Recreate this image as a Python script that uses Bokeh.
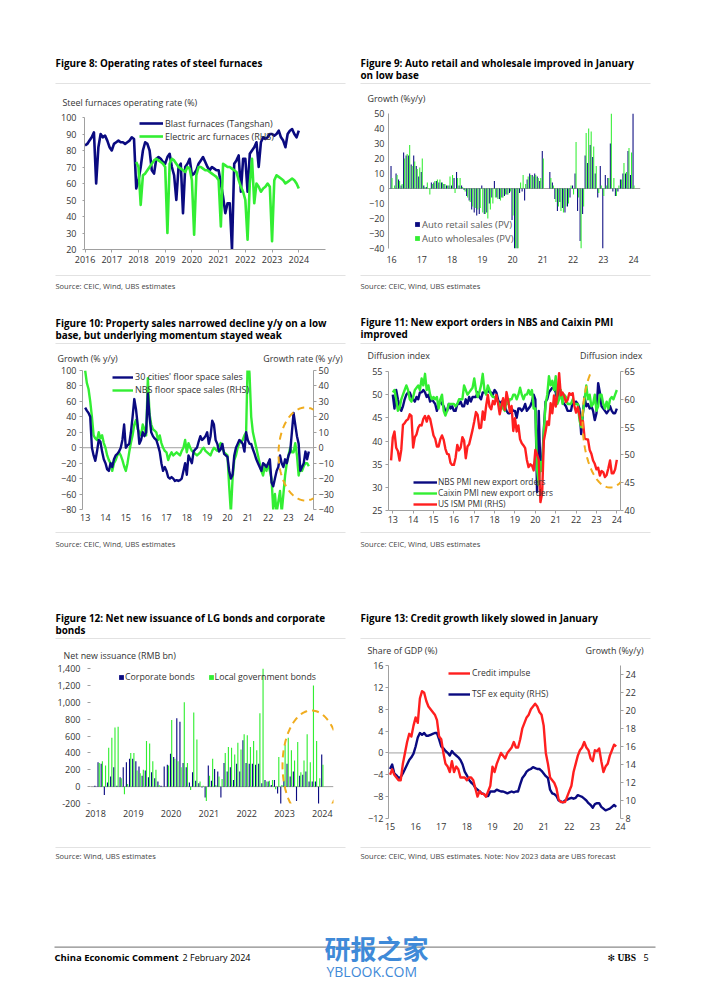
import numpy as np
from bokeh.plotting import figure
from bokeh.models import (Range1d, LinearAxis, Label, Span, FixedTicker, PolyAnnotation,
                          BoxAnnotation, Spacer, NumeralTickFormatter, Legend, LegendItem)
from bokeh.layouts import column, row
from bokeh.embed import file_html
from bokeh.resources import INLINE

nan = float("nan")

# ---------------- data ----------------
# Figure 8 (monthly, weekly data approximated)
F8_BLAST_START = (2016, 1)
F8_BLAST = [83, 84, 86, 88, 91, 60, 82, 90, 88, 89, 86, 82,
            80, 84, 85, 86, 85, 85, 84, 85, 86, 88, 87, 57,
            62, 70, 80, 85, 84, 80, 68, 66, 75, 76, 75, 73,
            72, 76, 78, 70, 65, 50, 70, 72, 42, 70, 72, 75,
            65, 66, 68, 72, 74, 76, 73, 70, 68, 70, 69, 68,
            68, 60, 52, 42, 48, 48, 20, 72, 74, 77, 55, 75,
            75, 55, 78, 80, 82, 85, 70, 85, 88, 87, 88, 90,
            90, 89, 90, 92, 88, 86, 82, 90, 92, 93, 90, 88,
            92]
F8_EAF_START = (2017, 12)
F8_EAF = [73,
          70, 47, 65, 66, 68, 70, 72, 74, 75, 74, 73, 72,
          70, 30, 72, 75, 74, 72, 70, 69, 68, 67, 70, 69,
          62, 29, 65, 70, 70, 69, 68, 68, 67, 66, 65, 64,
          62, 34, 72, 71, 70, 70, 69, 68, 67, 62, 58, 55,
          50, 26, 60, 75, 48, 60, 58, 55, 57, 58, 60, 58,
          25, 62, 65, 64, 63, 62, 60, 61, 62, 63, 62, 60,
          57]
F8_YEARS = list(range(2016, 2025))
F8_YTICKS = list(range(20, 101, 10))

# Figure 9
F9_START = (2016, 1)
F9_RETAIL = [15, 0, 10, 6, 2, 24, 22, 22, 16, 22, 15, 8,
             11, 2, 1, 0, 4, 4, 5, 4, 4, 3, 2, 2,
             2, 7, 11, 2, 2, -1, -5, -8, -14, -16, -18, -17,
             2, -17, -16, -10, -6, 5, -6, -7, -6, -5, -4, -3,
             -21, -40, -40, -3, -2, -8, 6, 10, 9, 10, 8, 5,
             25, nan, nan, 11, 4, -7, -15, -9, -13, -16, -12, -6,
             2, 10, -15, -35, -17, 22, 17, 29, 21, 10, -6, 15,
             -40, 9, 7, 30, -2, -5, -2, 6, 10, 10, 25, 9,
             50]
F9_WHOLE = [7, 2, 9, 5, 3, 20, 23, 29, 15, 18, 13, 14,
            20, 1, 4, -4, 3, 5, 6, 6, 4, 3, 2, 8,
            9, -3, 7, 7, 1, -2, -6, -9, -12, -13, -14, -13,
            -16, -17, -20, -14, -10, -6, -7, -8, -6, -4, -4, -2,
            -18, -40, -40, 4, 9, 3, 8, 9, 8, 9, 7, 7,
            20, nan, nan, 7, 2, -9, -12, -15, -16, -12, -10, 2,
            -4, 31, -6, -40, -12, 37, 40, 38, 28, 15, -3, 2,
            -5, 2, 7, 50, 7, -5, 2, 6, 17, 11, 27, 24,
            2]
F9_YEARS = list(range(2016, 2025))
F9_YTICKS = list(range(-40, 51, 10))

# Figure 10
F10_START = (2013, 1)
F10_CITIES = [52, 48, 45, 40, 0, -10, -17, -5, 10, 8, -5, -15,
              -20, -28, -30, -20, -25, -15, -10, -8, -5, 0, 10, 30,
              0, 3, 5, 20, 40, 63, 50, 30, 5, 10, 20, 15,
              20, 70, 40, 20, 15, 12, 10, 3, -5, -20, -30, -25,
              -30, -38, -40, -38, -40, -43, -42, -43, -42, -40, -30, -20,
              -35, -10, -15, -20, -5, -2, 0, 8, 15, 10, 12, 15,
              20, 5, 15, 35, 30, 10, 5, -5, -2, 5, -8, -10,
              -12, -30, -40, -35, -10, 0, 5, 10, 8, 5, -5, 20,
              10, 5, 5, -2, -8, -15, -20, -25, -30, -20, -22, -25,
              -20, -15, -45, -50, -40, -30, -25, -10, -20, -25, -15, -20,
              -10, -5, 20, 45, 30, 15, 5, -30, -25, -20, -5, -15,
              -5]
F10_NBS = [50, 42, 38, 30, 20, 8, 6, 5, 10, 6, 8, 3,
           0, -5, -8, -10, -15, -10, -8, -5, -3, -5, -8, -12,
           -15, -10, -3, 3, 8, 15, 18, 12, 10, 8, 15, 12,
           8, 45, 22, 15, 12, 11, 10, 5, 8, 3, 0, -2,
           -3, -8, -5, -3, -5, -4, -3, -4, -5, -2, 0, 5,
           -3, 3, 0, -2, -3, -4, -5, -4, -3, -1, 0, -2,
           -3, -4, -5, -2, 0, -1, -2, 1, 3, 0, -3, -4,
           -5, -25, -42, -20, -8, -5, 0, 3, 4, 5, 8, 10,
           60, 48, 20, 10, 5, 0, -5, -10, -15, -18, -12, -15,
           -10, -15, -20, -40, -30, -42, -35, -28, -42, -30, -18, -10,
           -5, 0, -3, -3, 3, -5, -18, -12, -15, -12, -10, -10,
           -12]
F10_YEARS = list(range(2013, 2025))
F10_YTICKS_L = list(range(-80, 101, 20))
F10_YTICKS_R = list(range(-40, 51, 10))

# Figure 11
F11_START = (2013, 1)
F11_NBS = [50, 47, 51, 49, 47.5, 46.5, 47.5, 49, 50, 50.5, 50.5, 49.5,
           49, 48.5, 49.5, 49, 50.5, 50.5, 51, 50.5, 49.5, 50, 48.5, 49,
           48.5, 48, 46.5, 48, 48.5, 48, 47.5, 46.5, 46.5, 48, 47, 47.5,
           46.5, 46.5, 48, 48, 48.5, 47.5, 47.5, 49, 48, 49.5, 48.5, 49.5,
           49.5, 49.5, 50.5, 49.5, 49, 50.5, 50.5, 50.5, 51, 50.5, 50.5, 50,
           51, 50.5, 49, 48, 48.5, 47.5, 47.5, 46.5, 46, 46, 47, 46.5,
           46.5, 45, 47, 47, 46.5, 47, 48, 46.5, 47, 47.5, 48.5, 50,
           49, 29, 46.5, 33.5, 35.5, 42.5, 48.5, 49, 50.5, 51, 51.5, 51.5,
           50.5, 48.5, 51, 50.5, 48.5, 48, 47.5, 46.5, 46.5, 46.5, 48.5, 48,
           48.5, 48, 47, 41.5, 46, 49.5, 47.5, 48, 47, 47.5, 46.5, 44.5,
           46, 52.5, 50.5, 47.5, 47, 46.5, 46, 46.5, 47.5, 46.5, 46, 46,
           47]
F11_CAIXIN = [50.5, 51, 49, 46.5, 47, 49, 50, 51, 52, 51, 49, 48.5,
              49.5, 51, 51.5, 52, 51, 53.5, 52, 54.5, 51, 52, 50, 49,
              49.5, 49, 49.5, 47, 49, 50, 46.5, 45.5, 46.5, 48, 48, 48,
              48, 47.5, 48, 49, 49, 49, 52, 51, 50, 50.5, 51, 51.5,
              53.5, 51, 49.5, 50.5, 52, 54.5, 51, 50, 52, 51, 50, 49.5,
              49.5, 49, 48.5, 47.5, 48, 47, 46.5, 48.5, 48, 49, 49, 50,
              50, 49, 50, 51.5, 50, 49, 50, 50, 51, 50, 51, 47,
              47, 34, 30.5, 35.5, 33.5, 42, 48, 50, 54, 52, 53, 51,
              54, 48, 49, 51, 48, 50, 49.5, 48, 48, 48, 49, 48,
              48, 48, 44.5, 43, 46, 49, 52, 49, 50, 47.5, 48, 50,
              46.5, 47.5, 50, 50, 48, 47, 48.5, 47, 49, 49.5, 49, 50,
              51]
F11_ISM_START = (2012, 12)
F11_ISM = [49.0,
           53.1, 54.2, 51.3, 50.7, 49.0, 50.9, 55.4, 55.7, 56.2, 56.4, 57.3, 57.0,
           51.3, 53.2, 53.7, 54.9, 55.4, 55.3, 56.5, 57.0, 56.0, 57.0, 56.5, 55.0,
           53.5, 52.9, 51.5, 51.5, 52.8, 53.5, 52.7, 51.1, 50.2, 50.1, 48.6, 48.2,
           48.2, 49.5, 51.8, 50.8, 51.3, 53.2, 52.6, 49.4, 51.5, 51.9, 53.2, 54.5,
           56.0, 57.7, 57.2, 54.8, 54.9, 57.8, 56.3, 58.8, 60.8, 58.7, 58.2, 59.7,
           59.1, 60.8, 59.3, 57.3, 58.7, 60.2, 58.1, 61.3, 59.8, 57.7, 58.8, 54.3,
           56.6, 54.2, 55.3, 52.8, 52.1, 51.7, 51.2, 49.1, 47.8, 48.3, 48.1, 47.2,
           50.9, 50.1, 49.1, 41.5, 43.1, 52.6, 54.2, 56.0, 55.4, 59.3, 57.5, 60.7,
           58.7, 60.8, 64.7, 60.7, 61.2, 60.6, 59.5, 59.9, 61.1, 60.8, 61.1, 58.8,
           57.6, 58.6, 57.1, 55.4, 56.1, 53.0, 52.8, 52.8, 50.9, 50.2, 49.0, 48.4,
           47.4, 47.7, 46.3, 47.1, 46.9, 46.0, 46.4, 47.6, 49.0, 46.7, 46.7, 47.4,
           49.1]
F11_YEARS = list(range(2013, 2025))
F11_YTICKS_L = list(range(25, 56, 5))
F11_YTICKS_R = list(range(40, 66, 5))

# Figure 12
F12_START = (2018, 1)
F12_CORP = [10, 290, 270, -100, 50, 120, 230, 10, 110, 230, 290, 330,
            330, 300, 240, 130, 190, 110, 170, 100, 60, 10, 240, 260,
            390, 350, 810, 770, 280, 230, 50, 170, 70, 40, -10, -130,
            250, 70, 210, 180, -130, 280, 180, 230, 80, 270, 180, 550,
            280, 270, 270, 260, 270, 40, 80, 60, 20, 80, -80, -210,
            70, 270, 120, 180, -170, 130, 140, 180, 60, 60, 60, -210,
            380]
F12_LG = [0, 280, 300, 250, 460, 580, 700, 710, 100, -90, 30, 400,
          400, 190, 160, 200, 540, 510, 300, 200, 20, 0, 0, 250,
          790, 330, 300, 230, 1000, 280, -40, 880, 560, 60, 10, -170,
          130, 330, 20, 120, 90, 400, 470, 460, 380, 520, 440, 620,
          610, 470, 540, 430, 870, 1400, 60, 70, 80, -30, 350, 20,
          500, 580, 430, 310, 530, 170, 310, 620, 290, 1200, 540, 100,
          260]
F12_YEARS = list(range(2018, 2025))
F12_YTICKS = list(range(-200, 1401, 200))

# Figure 13
F13_START = (2015, 1)
F13_IMPULSE = [-4, -3, -4, -4.5, -5, -5, -2, 0, 2, 3.5, 3, 5,
               6.5, 5.5, 10, 11.3, 11, 9.5, 8.5, 8, 7.5, 7, 6, 3,
               2.5, 0, -2, -2.5, -3.5, -1.5, -3.5, -2.5, -3, -4.5, -4.5, -4.5,
               -5, -4.5, -4.5, -5, -6.5, -8, -7, -7.5, -7.5, -8, -7, -6,
               -2.5, -3.5, -2, -1, 0, -0.5, -1, 0, 0.5, 1, 2, 1,
               1, 2.5, 4.5, 5.5, 6.5, 7, 8, 8.5, 9, 8.5, 7.5, 7,
               5, 0, -2, -4.5, -5, -5.5, -6.5, -8.5, -9, -9, -9, -8,
               -7, -6, -3.5, -2, -0.5, 0.5, 1, 2, 1, 0.5, -1, -1.5,
               0.5, 0.3, 0.8, -1.5, -3.5, -2.5, -2, -0.5, 0.5, 1.5, 1.2]
F13_TSF = [13.5, 14, 13, 12.8, 12.5, 12.6, 13, 13.5, 14, 14.5, 14.8, 15.2,
           16, 17, 17.5, 17.3, 17.5, 17.2, 17.2, 17.3, 17.4, 17.5, 17.5, 16.8,
           16, 15.8, 15.5, 15.3, 15, 15.5, 15.2, 15, 14.8, 14.5, 14, 13.2,
           12.8, 12.3, 12, 11.8, 11.4, 11.2, 11, 10.8, 10.7, 10.5, 10.5, 11,
           11, 11, 11.2, 11.1, 11, 11, 10.9, 10.8, 10.9, 11, 10.9, 11,
           11, 11.8, 12.5, 12.8, 13.2, 13.4, 13.5, 13.7, 13.6, 13.5, 13.5, 13.3,
           13, 12.7, 12.5, 11.2, 10.8, 10.7, 10.5, 10, 9.9, 9.8, 10, 10.1,
           10.2, 10.3, 10.2, 10.3, 10.6, 10.5, 10.4, 10.2, 10, 9.7, 9.5, 9.2,
           9.6, 9.7, 9.7, 9.3, 9.1, 8.9, 9, 9.1, 9.3, 9.5, 9.3]
F13_YEARS = list(range(2015, 2025))
F13_YTICKS_L = list(range(-12, 17, 4))
F13_YTICKS_R = list(range(8, 25, 2))

# ---------------- style ----------------
FONT = "Open Sans"
NAVY = "#0a0a80"
GREEN = "#33ee33"
RED = "#ff1f1f"
ORANGE = "#f0ac1e"
AXIS = "#a0a0a0"
SEP = "#e2e2e2"
TXT = "#333333"
TITLE_SIZE = 9.9
AXTITLE_SIZE = 8.9
SOURCE_SIZE = 7.5
TICK_SIZE = "9px"


def monthly_x(start, n):
    y0, m0 = start
    return [y0 + (m0 - 1 + i) / 12.0 for i in range(n)]


def panel(geo, xr, yr):
    (bx0, by0, bx1, by1), (fl, ft, fr, fb) = geo
    p = figure(frame_width=fr - fl, frame_height=fb - ft,
               min_border_left=fl - bx0, min_border_right=bx1 - fr,
               min_border_top=ft - by0, min_border_bottom=by1 - fb,
               x_range=xr, y_range=yr, output_backend="svg",
               toolbar_location=None, tools="")
    p.outline_line_color = None
    p.grid.visible = False
    p.background_fill_color = "white"
    p.border_fill_color = "white"
    return p


def style_axis(ax, line=True, ticks=0, standoff=3, ticker=None, labels=None):
    ax.axis_line_color = AXIS if line else None
    ax.axis_line_width = 1
    ax.major_tick_line_color = AXIS if ticks else None
    ax.major_tick_out = ticks
    ax.major_tick_in = 0
    ax.minor_tick_line_color = None
    ax.major_label_text_font = FONT
    ax.major_label_text_font_size = TICK_SIZE
    ax.major_label_text_color = TXT
    ax.major_label_standoff = standoff
    if ticker is not None:
        ax.ticker = FixedTicker(ticks=ticker)
    if labels is not None:
        ax.major_label_overrides = labels


def ellipse(p, fr, cx, cy, a, b):
    fl, ft, frr, fb = fr
    t = np.linspace(0, 2 * np.pi, 140)
    p.add_layout(PolyAnnotation(xs=list(cx - fl + a * np.cos(t)), ys=list(fb - cy + b * np.sin(t)),
                                xs_units="screen", ys_units="screen",
                                fill_color=None, fill_alpha=0, line_color=ORANGE, line_alpha=1,
                                line_width=2, line_dash="7 5"))


def add_legend(p, fr, entries, left, c, gw, gh, spacing, standoff, size=8.0,
               horizontal=False, color=TXT):
    fl, ft, frr, fb = fr
    spacing = int(round(spacing))
    rh = max(gh, 1.44 * size)
    top = c - rh / 2.0
    n = len(entries)
    h = rh if horizontal else n * rh + (n - 1) * spacing
    items = [LegendItem(label=t, renderers=[r]) for t, r in entries]
    lg = Legend(items=items, location=(left - fl, fb - (top + h)),
                orientation="horizontal" if horizontal else "vertical",
                glyph_width=int(gw), glyph_height=int(gh), label_height=int(gh), spacing=spacing,
                padding=0, margin=0, label_standoff=int(standoff),
                label_text_font=FONT, label_text_font_size=f"{size}px", label_text_color=color,
                background_fill_alpha=0, border_line_alpha=0)
    p.add_layout(lg)


def short_labels(years):
    return {y: str(y)[2:] for y in years}


# text blocks (headers / sources): the frame covers the whole block
def block(box):
    x0, y0, x1, y1 = box
    b = figure(width=x1 - x0, height=y1 - y0, x_range=Range1d(0, x1 - x0), y_range=Range1d(0, y1 - y0),
               x_axis_location=None, y_axis_location=None, min_border=0,
               output_backend="svg", toolbar_location=None, tools="")
    b.outline_line_color = None
    b.grid.visible = False
    return b


def btxt(b, box, px, py, text, size=8, bold=False, align="left", color=TXT, font=FONT):
    x0, y0, x1, y1 = box
    b.add_layout(Label(x=px - x0, y=y1 - py, text=text, text_font=font, text_font_size=f"{size}px",
                       text_font_style="bold" if bold else "normal", text_color=color,
                       text_align=align, text_baseline="middle"))


def bline(b, box, px0, px1, py, color=SEP, width=1.0):
    x0, y0, x1, y1 = box
    b.add_layout(BoxAnnotation(left=px0 - x0, right=px1 - x0, bottom=y1 - py - width / 2,
                               top=y1 - py + width / 2, fill_color=color, fill_alpha=1,
                               line_color=None))


def header(box, lx, titles, ty, sep_y, axis_left=None, axis_right=None):
    b = block(box)
    for i, t in enumerate(titles):
        btxt(b, box, lx, ty + 12.5 * i, t, size=TITLE_SIZE, bold=True, color="#000000")
    bline(b, box, lx, lx + 290, sep_y)
    if axis_left:
        btxt(b, box, axis_left[0], axis_left[1], axis_left[2], size=AXTITLE_SIZE)
    if axis_right:
        btxt(b, box, axis_right[0], axis_right[1], axis_right[2], size=AXTITLE_SIZE, align="right")
    return b


def source(box, lx, sep_y, text, sy):
    b = block(box)
    bline(b, box, lx, lx + 290, sep_y)
    btxt(b, box, lx, sy, text, size=SOURCE_SIZE, color="#444444")
    return b


def stack(*figs):
    # each figure is wrapped on its own so that Bokeh does not align their frames
    return column(*[column(fg) for fg in figs])


# ---------------- Figure 8 ----------------
G8 = ((50, 108, 353, 270), (84, 117, 325, 249))
p8 = panel(G8, Range1d(2015.98, 2025.0), Range1d(20, 100))
f = G8[1]
r8a = p8.line(monthly_x(F8_BLAST_START, len(F8_BLAST)), F8_BLAST, line_color=NAVY, line_width=2.6, line_join="round")
r8b = p8.line(monthly_x(F8_EAF_START, len(F8_EAF)), F8_EAF, line_color=GREEN, line_width=2.6, line_join="round")
style_axis(p8.yaxis[0], line=True, ticks=2, standoff=6, ticker=F8_YTICKS)
style_axis(p8.xaxis[0], line=True, ticks=3, standoff=3, ticker=F8_YEARS, labels={y: str(y) for y in F8_YEARS})
add_legend(p8, f, [("Blast furnaces (Tangshan)", r8a), ("Electric arc furnaces (RHS)", r8b)],
           139, 123.5, 24, 12, 0, 2, size=9)
h8 = header((50, 48, 353, 108), 55, ["Figure 8: Operating rates of steel furnaces"], 62, 83,
            axis_left=(62, 102, "Steel furnaces operating rate (%)"))
s8 = source((50, 270, 353, 298), 55, 275, "Source: CEIC, Wind, UBS estimates", 285)

# ---------------- Figure 9 ----------------
G9 = ((353, 104, 656, 270), (388, 113, 640, 248))
p9 = panel(G9, Range1d(2015.9, 2024.23), Range1d(-40, 50))
f = G9[1]
x9 = np.array(monthly_x(F9_START, len(F9_RETAIL)))
p9.add_layout(Span(location=0, dimension="width", line_color=AXIS, line_width=1, level="underlay"))
r9a = p9.vbar(x=x9 - 0.2 / 12, top=F9_RETAIL, bottom=0, width=0.42 / 12, fill_color=NAVY, line_color=None)
r9b = p9.vbar(x=x9 + 0.2 / 12, top=F9_WHOLE, bottom=0, width=0.42 / 12, fill_color=GREEN, line_color=None)
style_axis(p9.yaxis[0], line=True, ticks=0, standoff=4, ticker=F9_YTICKS)
style_axis(p9.xaxis[0], line=False, ticks=0, standoff=7, ticker=F9_YEARS, labels=short_labels(F9_YEARS))
add_legend(p9, f, [("Auto retail sales (PV)", r9a), ("Auto wholesales (PV)", r9b)],
           414, 223, 6, 6, 1, 2, size=9.5, color="#5a5a5a")
h9 = header((353, 48, 656, 104), 360, ["Figure 9: Auto retail and wholesale improved in January", "on low base"],
            62, 83, axis_left=(367, 98, "Growth (%y/y)"))
s9 = source((353, 270, 656, 298), 360, 275, "Source: CEIC, Wind, UBS estimates", 285)

# ---------------- Figure 10 ----------------
G10 = ((50, 364, 353, 528), (82, 370, 313, 509))
p10 = panel(G10, Range1d(2012.87, 2024.23), Range1d(-80, 100))
f = G10[1]
p10.extra_y_ranges = {"right": Range1d(-40, 50)}
p10.add_layout(Span(location=0, dimension="width", line_color=AXIS, line_width=1, level="underlay"))
x10 = monthly_x(F10_START, len(F10_CITIES))
r10b = p10.line(x10, F10_NBS, line_color=GREEN, line_width=2.4, line_join="round", y_range_name="right")
r10a = p10.line(x10, F10_CITIES, line_color=NAVY, line_width=2.4, line_join="round")
ax_r = LinearAxis(y_range_name="right")
p10.add_layout(ax_r, "right")
style_axis(p10.yaxis[0], line=True, ticks=3, standoff=3, ticker=F10_YTICKS_L)
style_axis(ax_r, line=True, ticks=3, standoff=2, ticker=F10_YTICKS_R)
style_axis(p10.xaxis[0], line=False, ticks=0, standoff=4, ticker=F10_YEARS, labels=short_labels(F10_YEARS))
add_legend(p10, f, [("30 cities' floor space sales", r10a), ("NBS floor space sales (RHS)", r10b)],
           112, 377, 21, 12, 0, 2, size=9)
ellipse(p10, f, 305, 453.5, 27, 46.5)
h10 = header((50, 298, 353, 364), 55, ["Figure 10: Property sales narrowed decline y/y on a low",
                                      "base, but underlying momentum stayed weak"], 322, 343,
             axis_left=(57, 358, "Growth (% y/y)"), axis_right=(342, 358, "Growth rate (% y/y)"))
s10 = source((50, 528, 353, 555), 55, 532, "Source: CEIC, Wind, UBS estimates", 543)

# ---------------- Figure 11 ----------------
G11 = ((353, 364, 656, 528), (388, 371, 620, 510))
p11 = panel(G11, Range1d(2012.79, 2024.18), Range1d(25, 55))
f = G11[1]
p11.extra_y_ranges = {"right": Range1d(40, 65)}
x11 = monthly_x(F11_START, len(F11_NBS))
r11a = p11.line(x11, F11_NBS, line_color=NAVY, line_width=2.4, line_join="round")
r11b = p11.line(x11, F11_CAIXIN, line_color=GREEN, line_width=2.4, line_join="round")
r11c = p11.line(monthly_x(F11_ISM_START, len(F11_ISM)), F11_ISM, line_color=RED, line_width=2.4,
                line_join="round", y_range_name="right")
ax_r = LinearAxis(y_range_name="right")
p11.add_layout(ax_r, "right")
style_axis(p11.yaxis[0], line=True, ticks=3, standoff=3, ticker=F11_YTICKS_L)
style_axis(ax_r, line=True, ticks=3, standoff=1, ticker=F11_YTICKS_R)
style_axis(p11.xaxis[0], line=True, ticks=3, standoff=2, ticker=F11_YEARS, labels=short_labels(F11_YEARS))
add_legend(p11, f, [("NBS PMI new export orders", r11a), ("Caixin PMI new export orders", r11b),
                    ("US ISM PMI (RHS)", r11c)], 413, 479, 24, 10, 0, 1, size=8.4)
ellipse(p11, f, 609.5, 420, 27.5, 67)
h11 = header((353, 298, 656, 364), 360, ["Figure 11: New export orders in NBS and Caixin PMI", "improved"],
             321, 343, axis_left=(367, 355, "Diffusion index"), axis_right=(642, 355, "Diffusion index"))
s11 = source((353, 528, 656, 555), 360, 532, "Source: CEIC, Wind, UBS estimates", 543)

# ---------------- Figure 12 ----------------
G12 = ((50, 662, 353, 840), (90, 668, 333, 803))
p12 = panel(G12, Range1d(2017.868, 2024.296), Range1d(-200, 1400))
f = G12[1]
x12 = np.array(monthly_x(F12_START, len(F12_CORP)))
p12.add_layout(Span(location=0, dimension="width", line_color=AXIS, line_width=1, level="underlay"))
r12a = p12.vbar(x=x12 - 0.19 / 12, top=F12_CORP, bottom=0, width=0.36 / 12, fill_color=NAVY, line_color=None)
r12b = p12.vbar(x=x12 + 0.19 / 12, top=F12_LG, bottom=0, width=0.36 / 12, fill_color=GREEN, line_color=None)
style_axis(p12.yaxis[0], line=False, ticks=3, standoff=7, ticker=F12_YTICKS)
p12.yaxis[0].formatter = NumeralTickFormatter(format="0,0")
style_axis(p12.xaxis[0], line=False, ticks=0, standoff=6, ticker=F12_YEARS, labels={y: str(y) for y in F12_YEARS})
add_legend(p12, f, [("Corporate bonds", r12a), ("Local government bonds", r12b)],
           118, 676.5, 6, 6, 13, 1, size=8.8, horizontal=True)
ellipse(p12, f, 311, 765, 29, 55)
h12 = header((50, 600, 353, 662), 55, ["Figure 12: Net new issuance of LG bonds and corporate", "bonds"],
             617, 638, axis_left=(63, 655, "Net new issuance (RMB bn)"))
s12 = source((50, 840, 353, 868), 55, 847, "Source: Wind, UBS estimates", 855)

# ---------------- Figure 13 ----------------
G13 = ((353, 657, 656, 840), (388, 665, 620, 818))
p13 = panel(G13, Range1d(2014.94, 2024.0), Range1d(-12, 16))
f = G13[1]
p13.extra_y_ranges = {"right": Range1d(8, 25)}
p13.add_layout(Span(location=0, dimension="width", line_color=AXIS, line_width=1, level="underlay"))
x13 = monthly_x(F13_START, len(F13_IMPULSE))
r13b = p13.line(x13, F13_TSF, line_color=NAVY, line_width=2.4, line_join="round", y_range_name="right")
r13a = p13.line(x13, F13_IMPULSE, line_color=RED, line_width=2.4, line_join="round")
ax_r = LinearAxis(y_range_name="right")
p13.add_layout(ax_r, "right")
style_axis(p13.yaxis[0], line=True, ticks=3, standoff=2, ticker=F13_YTICKS_L)
style_axis(ax_r, line=True, ticks=3, standoff=2, ticker=F13_YTICKS_R)
style_axis(p13.xaxis[0], line=False, ticks=0, standoff=4, ticker=F13_YEARS, labels=short_labels(F13_YEARS))
add_legend(p13, f, [("Credit impulse", r13a), ("TSF ex equity (RHS)", r13b)], 448, 672, 22, 12, 9, 2, size=8.6)
h13 = header((353, 600, 656, 657), 360, ["Figure 13: Credit growth likely slowed in January"], 617, 638,
             axis_left=(367, 650, "Share of GDP (%)"), axis_right=(643, 650, "Growth (%y/y)"))
s13 = source((353, 840, 656, 868), 360, 847,
             "Source: CEIC, Wind, UBS estimates. Note: Nov 2023 data are UBS forecast", 855)

# ---------------- page footer ----------------
FB = (50, 930, 656, 984)
pf = block(FB)
bline(pf, FB, 54, 655, 946.7, color="#8a8a8a", width=1.2)
btxt(pf, FB, 324, 947, "研报之家", size=26, bold=True, color="#3f8ad8", font="Noto Sans CJK SC")
btxt(pf, FB, 326, 971, "YBLOOK.COM", size=14, color="#3f8ad8")
btxt(pf, FB, 54, 957, "China Economic Comment", size=9.5, bold=True, color="#000000")
btxt(pf, FB, 182, 957, "2 February 2024", size=9, color="#000000")
btxt(pf, FB, 607, 957, "✻", size=9, color="#000000", font="DejaVu Sans")
btxt(pf, FB, 617, 957, "UBS", size=9.5, bold=True, color="#000000", font="Liberation Serif")
btxt(pf, FB, 643, 957, "5", size=9, color="#000000")

layout = column(
    Spacer(height=48),
    row(Spacer(width=50), stack(h8, p8, s8), stack(h9, p9, s9)),
    row(Spacer(width=50), stack(h10, p10, s10), stack(h11, p11, s11)),
    Spacer(height=45),
    row(Spacer(width=50), stack(h12, p12, s12), stack(h13, p13, s13)),
    Spacer(height=62),
    row(Spacer(width=50), pf),
)

with open("out.html", "w") as fh:
    fh.write(file_html(layout, INLINE))
